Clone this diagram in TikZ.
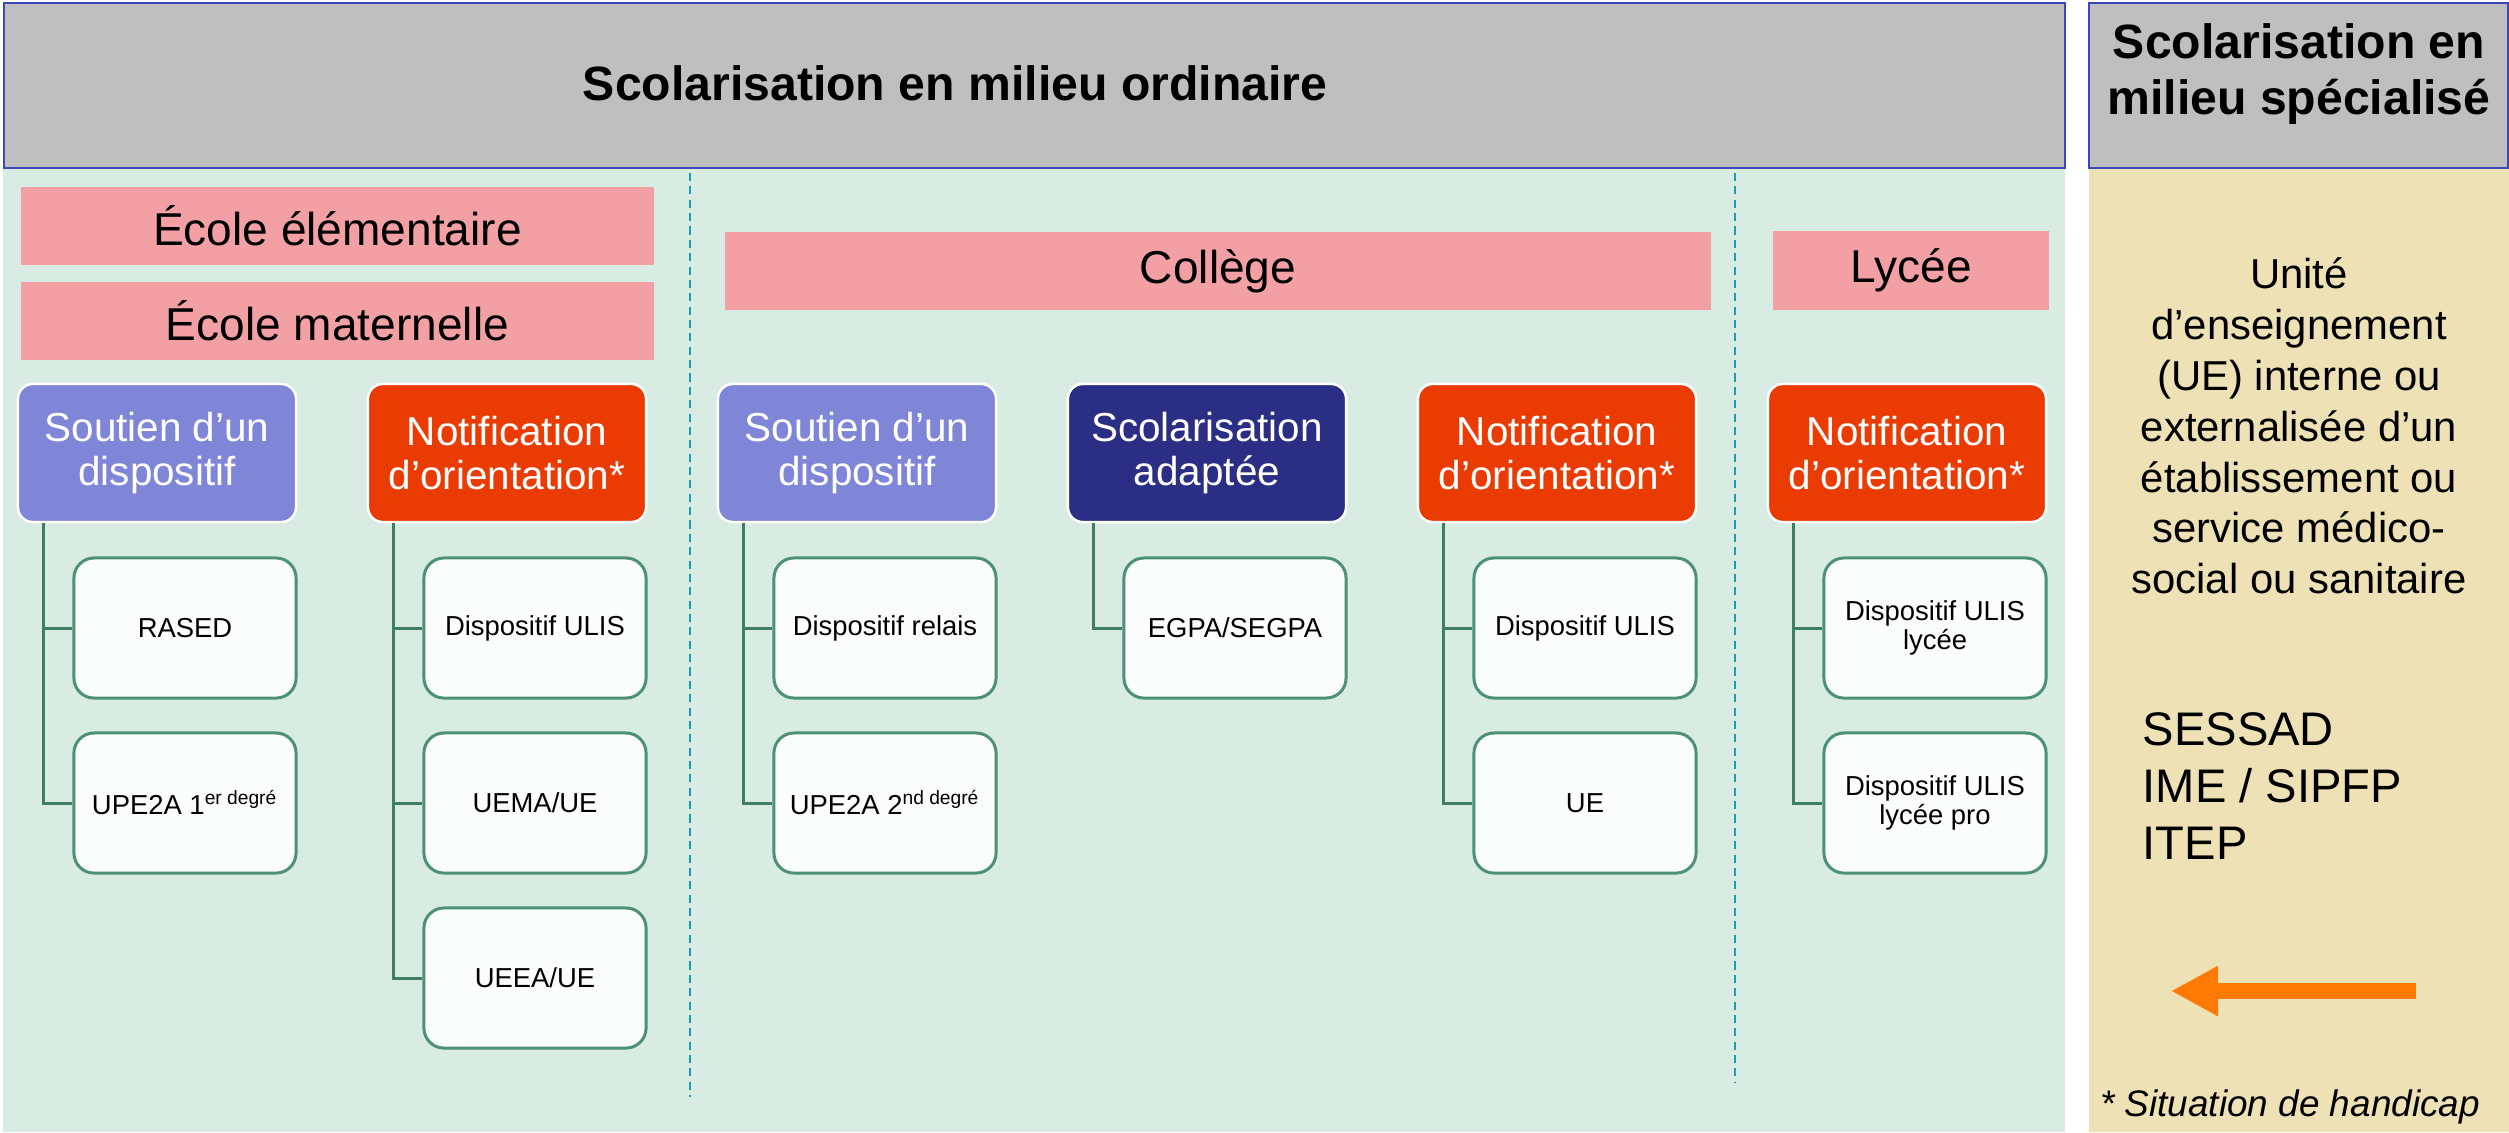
\documentclass[tikz,border=0pt]{standalone}
\usepackage{fontspec}
\setmainfont{Liberation Sans}
\usepackage{xcolor}
\usepackage{tikz}
\usetikzlibrary{arrows.meta}

\definecolor{bggreen}{HTML}{D9ECE3}
\definecolor{bgtan}{HTML}{EEE1B5}
\definecolor{bannergrey}{HTML}{BFBFBF}
\definecolor{bannerblue}{HTML}{3B47BB}
\definecolor{headpink}{HTML}{F3A0A5}
\definecolor{soutienblue}{HTML}{7F85D7}
\definecolor{notifred}{HTML}{EA3B03}
\definecolor{adaptnavy}{HTML}{2A2E84}
\definecolor{leafwhite}{HTML}{FBFDFC}
\definecolor{leafgreen}{HTML}{4C9176}
\definecolor{linkgreen}{HTML}{3E7F62}
\definecolor{dashteal}{HTML}{1F9BB1}
\definecolor{arroworange}{HTML}{FF7A05}

\tikzset{
  banner/.style={draw=bannerblue, line width=0.6pt, fill=bannergrey},
  bannertext/.style={font=\fontsize{13.7}{15.9}\selectfont\bfseries, align=center, inner sep=0pt},
  stage/.style={fill=headpink, minimum height=0.78cm, inner sep=0pt, font=\fontsize{13.1}{15}\selectfont},
  rootbox/.style={fill=#1, draw=white, line width=0.7pt, rounded corners=0.15cm,
    minimum width=2.78cm, minimum height=1.38cm, inner sep=0pt, text=white, align=center,
    font=\fontsize{11.5}{12.5}\selectfont},
  leafbox/.style={fill=leafwhite, draw=leafgreen, line width=0.85pt, rounded corners=0.2cm,
    minimum width=2.22cm, minimum height=1.40cm, inner sep=0pt, align=center,
    font=\fontsize{7.8}{8.3}\selectfont},
  link/.style={draw=linkgreen, line width=0.85pt},
  sepline/.style={draw=dashteal, line width=0.6pt, dash pattern=on 2.3pt off 1.5pt},
  paneltext/.style={font=\fontsize{11.9}{14.45}\selectfont, align=center, inner sep=0pt},
  listtext/.style={font=\fontsize{13.4}{16.3}\selectfont, align=left, inner sep=0pt},
}

\begin{document}
\begin{tikzpicture}[x=0.01cm, y=-0.01cm]

\useasboundingbox (0,0) rectangle (2509,1132);

%%    BACKGROUND    %%
\fill[bggreen] (3,168) rectangle (2065,1132);
\fill[bgtan] (2089,168) rectangle (2509,1132);
\draw[banner] (4,3) rectangle (2065,168);
\draw[banner] (2089,3) rectangle (2508,168);
\draw[sepline] (690,173) -- (690,1097);
\draw[sepline] (1735,173) -- (1735,1083);

%%    TITLES    %%
\node[bannertext, anchor=base] (ordinaire) at (955,100) {Scolarisation en milieu ordinaire};
\node[bannertext] (specialise) at (2299,74) {Scolarisation en\\milieu spécialisé};

\node[stage, minimum width=6.33cm] (elem) at (337.5,226) {École élémentaire};
\node[stage, minimum width=6.33cm] (mat) at (337.5,321) {École maternelle};
\node[stage, minimum width=9.86cm] (college) at (1218,271) {Collège};
\node[stage, minimum width=2.76cm] (lycee) at (1911,270.5) {Lycée};

%%    NODES   %%
\node[rootbox=soutienblue] (soutien1) at (157,453) {Soutien d’un\\dispositif};
\node[rootbox=notifred] (notif1) at (507,453) {Notification\\d’orientation*};
\node[rootbox=soutienblue] (soutien2) at (857,453) {Soutien d’un\\dispositif};
\node[rootbox=adaptnavy] (adapt2) at (1207,453) {Scolarisation\\adaptée};
\node[rootbox=notifred] (notif2) at (1557,453) {Notification\\d’orientation*};
\node[rootbox=notifred] (notif3) at (1907,453) {Notification\\d’orientation*};

\node[leafbox] (rased) at (185,628) {RASED};
\node[leafbox] (upe1) at (185,803) {UPE2A 1\textsuperscript{er degré}};
\node[leafbox] (ulis1) at (535,628) {Dispositif ULIS};
\node[leafbox] (uema) at (535,803) {UEMA/UE};
\node[leafbox] (ueea) at (535,978) {UEEA/UE};
\node[leafbox] (relais) at (885,628) {Dispositif relais};
\node[leafbox] (upe2) at (885,803) {UPE2A 2\textsuperscript{nd degré}};
\node[leafbox] (segpa) at (1235,628) {EGPA/SEGPA};
\node[leafbox] (ulis2) at (1585,628) {Dispositif ULIS};
\node[leafbox] (ue2) at (1585,803) {UE};
\node[leafbox] (ulis3) at (1935,628) {Dispositif ULIS\\lycée};
\node[leafbox] (ulispro) at (1935,803) {Dispositif ULIS\\lycée pro};

\node[paneltext] (ue) at (2299,426) {Unité\\d’enseignement\\(UE) interne ou\\externalisée d’un\\établissement ou\\service médico-\\social ou sanitaire};
\node[listtext, anchor=west] (esms) at (2142,786) {SESSAD\\IME / SIPFP\\ITEP};
\node[font=\fontsize{10.5}{12}\selectfont\itshape, anchor=base, inner sep=0pt] (note) at (2290,1116) {* Situation de handicap};

\coordinate (arrowtail) at (2416,991);
\coordinate (arrowtip) at (2171,991);

%%    ARROWS    %%
\draw[link] ([xshift=0.27cm]soutien1.south west) |- (rased.west);
\draw[link] ([xshift=0.27cm]soutien1.south west) |- (upe1.west);
\draw[link] ([xshift=0.27cm]notif1.south west) |- (ulis1.west);
\draw[link] ([xshift=0.27cm]notif1.south west) |- (uema.west);
\draw[link] ([xshift=0.27cm]notif1.south west) |- (ueea.west);
\draw[link] ([xshift=0.27cm]soutien2.south west) |- (relais.west);
\draw[link] ([xshift=0.27cm]soutien2.south west) |- (upe2.west);
\draw[link] ([xshift=0.27cm]adapt2.south west) |- (segpa.west);
\draw[link] ([xshift=0.27cm]notif2.south west) |- (ulis2.west);
\draw[link] ([xshift=0.27cm]notif2.south west) |- (ue2.west);
\draw[link] ([xshift=0.27cm]notif3.south west) |- (ulis3.west);
\draw[link] ([xshift=0.27cm]notif3.south west) |- (ulispro.west);

\draw[-{Triangle[length=0.47cm,width=0.47cm]}, draw=arroworange, fill=arroworange, line width=0.16cm] (arrowtail) -- (arrowtip);

\end{tikzpicture}
\end{document}
